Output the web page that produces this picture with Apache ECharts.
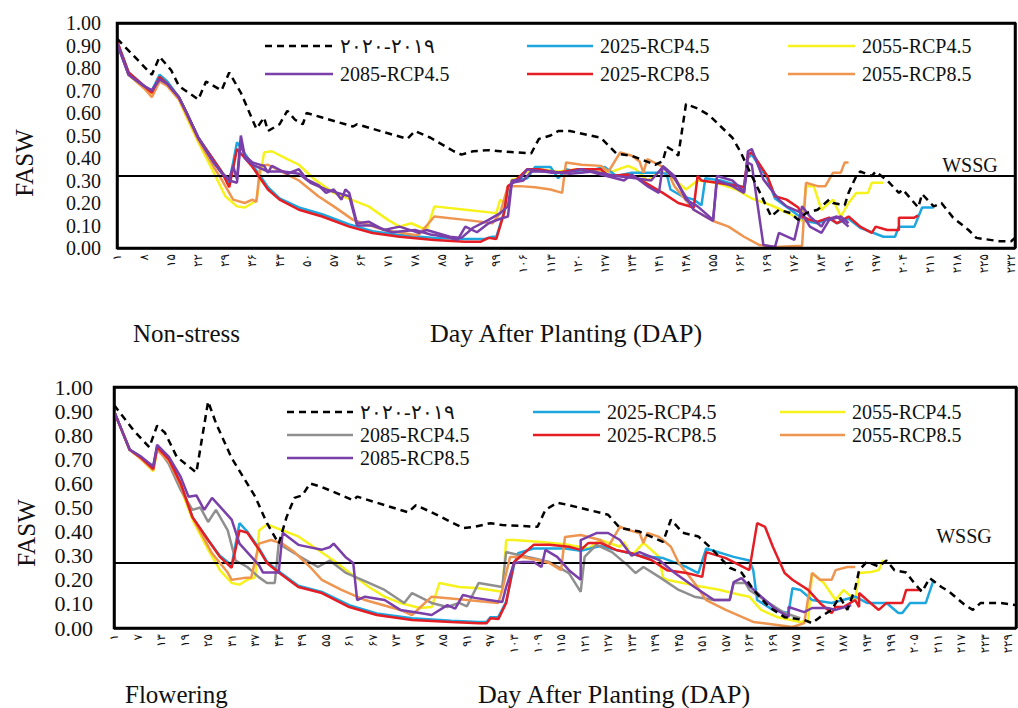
<!DOCTYPE html>
<html><head><meta charset="utf-8">
<script src="https://cdn.jsdelivr.net/npm/echarts@6/dist/echarts.min.js"></script>
<style>html,body{margin:0;padding:0;background:#fff}#c{width:1018px;height:708px;background:#fff}</style>
</head><body><div id="c"></div>
<script>
// ---------- categories (Day After Planting) ----------
const TOP_DAYS = []; for (let d = 1; d <= 233; d++) TOP_DAYS.push(String(d));
const BOT_DAYS = []; for (let d = 1; d <= 231; d++) BOT_DAYS.push(String(d));
const Y_TICKS = [0, 0.1, 0.2, 0.3, 0.4, 0.5, 0.6, 0.7, 0.8, 0.9, 1.0];
const WSSG_TOP = 0.315;
const WSSG_BOT = 0.27;

// ---------- Non-stress panel: [day, FASW] ----------
const TOP_OBS = [[1,0.93],[5,0.86],[10,0.77],[12,0.85],[15,0.79],[17,0.72],[22,0.66],[24,0.74],[28,0.70],[30,0.78],[33,0.69],[37,0.53],[39,0.58],[40,0.52],[43,0.55],[45,0.61],[47,0.57],[49,0.55],[50,0.60],[54,0.58],[62,0.54],[63,0.55],[71,0.51],[76,0.485],[78,0.52],[82,0.49],[88,0.43],[90,0.415],[93,0.43],[97,0.435],[100,0.43],[108,0.42],[110,0.485],[113,0.50],[115,0.52],[118,0.52],[126,0.49],[130,0.42],[134,0.41],[140,0.37],[142,0.385],[143,0.45],[145,0.43],[146,0.41],[148,0.64],[151,0.62],[154,0.59],[157,0.54],[160,0.49],[162,0.43],[165,0.32],[167,0.25],[170,0.14],[172,0.17],[175,0.155],[177,0.125],[179,0.155],[182,0.17],[185,0.215],[186,0.20],[189,0.19],[190,0.245],[192,0.32],[193,0.34],[196,0.32],[197,0.34],[200,0.30],[203,0.245],[204,0.26],[208,0.18],[209,0.24],[212,0.185],[214,0.20],[217,0.135],[221,0.08],[223,0.045],[229,0.03],[232,0.03],[233,0.045]];
const TOP_2025_45 = [[1,0.92],[4,0.78],[8,0.72],[10,0.70],[12,0.77],[14,0.74],[17,0.67],[19,0.60],[22,0.49],[26,0.39],[28,0.34],[30,0.29],[32,0.47],[34,0.42],[36,0.37],[40,0.27],[43,0.22],[48,0.18],[54,0.15],[61,0.105],[67,0.075],[74,0.058],[83,0.045],[91,0.04],[96,0.04],[98,0.05],[99,0.05],[101,0.16],[102,0.27],[104,0.30],[107,0.31],[109,0.36],[113,0.36],[115,0.31],[117,0.35],[121,0.335],[127,0.36],[130,0.32],[134,0.335],[141,0.335],[143,0.33],[144,0.26],[147,0.23],[150,0.215],[152,0.19],[153,0.31],[157,0.30],[161,0.28],[163,0.27],[164,0.40],[165,0.415],[169,0.31],[171,0.22],[175,0.17],[179,0.12],[182,0.11],[185,0.13],[187,0.11],[190,0.13],[193,0.09],[196,0.07],[199,0.05],[202,0.05],[203,0.095],[207,0.095],[209,0.18],[212,0.18]];
const TOP_2055_45 = [[1,0.92],[4,0.77],[8,0.71],[10,0.68],[12,0.75],[14,0.72],[17,0.66],[19,0.58],[22,0.47],[26,0.335],[29,0.23],[32,0.185],[34,0.18],[36,0.20],[37,0.21],[39,0.425],[41,0.43],[45,0.395],[48,0.37],[52,0.305],[57,0.245],[66,0.185],[71,0.125],[74,0.095],[77,0.11],[81,0.08],[83,0.185],[91,0.17],[99,0.155],[100,0.215],[102,0.185],[103,0.305],[105,0.31],[107,0.34],[110,0.35],[115,0.34],[120,0.35],[125,0.34],[129,0.34],[133,0.365],[135,0.35],[138,0.30],[141,0.335],[143,0.335],[148,0.26],[151,0.30],[156,0.29],[161,0.26],[165,0.22],[170,0.19],[175,0.15],[178,0.12],[179,0.275],[181,0.275],[183,0.17],[186,0.215],[188,0.14],[190,0.20],[192,0.245],[195,0.245],[196,0.29],[199,0.29]];
const TOP_2055_85 = [[1,0.92],[4,0.77],[8,0.71],[10,0.67],[12,0.74],[14,0.72],[17,0.66],[19,0.59],[22,0.48],[26,0.36],[28,0.305],[31,0.215],[34,0.20],[36,0.215],[37,0.205],[38,0.365],[40,0.37],[44,0.335],[48,0.30],[53,0.23],[57,0.185],[62,0.125],[70,0.08],[78,0.058],[79,0.06],[83,0.14],[91,0.125],[98,0.11],[100,0.155],[102,0.275],[105,0.275],[109,0.27],[113,0.26],[116,0.245],[117,0.38],[121,0.37],[126,0.365],[128,0.34],[131,0.425],[134,0.41],[136,0.385],[137,0.335],[138,0.395],[141,0.37],[143,0.35],[145,0.275],[150,0.17],[155,0.12],[159,0.095],[163,0.05],[167,0.013],[171,0.005],[178,0.01],[179,0.29],[182,0.275],[184,0.275],[186,0.335],[188,0.335],[189,0.38],[190,0.38]];
const TOP_2025_85 = [[1,0.92],[4,0.78],[8,0.72],[10,0.69],[12,0.76],[14,0.73],[17,0.67],[19,0.60],[22,0.49],[26,0.39],[28,0.34],[30,0.27],[32,0.44],[34,0.40],[36,0.36],[40,0.26],[43,0.215],[48,0.17],[54,0.14],[61,0.095],[67,0.067],[74,0.05],[83,0.036],[91,0.028],[95,0.028],[97,0.045],[99,0.04],[101,0.155],[102,0.275],[104,0.30],[107,0.35],[110,0.35],[115,0.335],[120,0.35],[126,0.35],[128,0.32],[133,0.327],[136,0.305],[142,0.245],[146,0.20],[150,0.18],[151,0.32],[152,0.30],[156,0.29],[160,0.28],[163,0.27],[164,0.415],[165,0.425],[169,0.32],[171,0.23],[174,0.215],[177,0.18],[178,0.14],[180,0.125],[182,0.117],[185,0.135],[187,0.11],[190,0.14],[193,0.095],[196,0.067],[197,0.095],[200,0.08],[203,0.08],[203,0.135],[207,0.135],[208,0.145]];
const TOP_2085_45 = [[1,0.91],[4,0.77],[8,0.72],[10,0.70],[12,0.75],[14,0.73],[17,0.67],[19,0.60],[22,0.49],[26,0.38],[28,0.335],[30,0.305],[31,0.365],[32,0.305],[33,0.50],[34,0.41],[36,0.38],[39,0.365],[40,0.335],[41,0.365],[45,0.33],[48,0.35],[50,0.305],[53,0.28],[55,0.245],[57,0.26],[59,0.215],[60,0.26],[61,0.245],[63,0.11],[66,0.117],[70,0.08],[74,0.095],[79,0.067],[81,0.08],[87,0.05],[90,0.045],[93,0.09],[97,0.125],[100,0.155],[102,0.185],[103,0.30],[105,0.305],[107,0.35],[113,0.335],[117,0.335],[121,0.35],[126,0.327],[132,0.30],[134,0.327],[138,0.275],[141,0.245],[142,0.365],[145,0.32],[148,0.215],[151,0.185],[155,0.125],[156,0.30],[160,0.275],[163,0.245],[164,0.43],[165,0.44],[168,0.305],[172,0.215],[174,0.185],[178,0.155],[180,0.095],[183,0.067],[185,0.125],[188,0.14],[190,0.11]];
const TOP_2085_85 = [[1,0.91],[4,0.77],[8,0.72],[10,0.70],[12,0.75],[14,0.73],[17,0.67],[19,0.60],[22,0.49],[26,0.38],[28,0.335],[30,0.30],[32,0.29],[33,0.48],[34,0.40],[36,0.37],[40,0.34],[44,0.34],[48,0.33],[51,0.29],[55,0.26],[58,0.245],[61,0.23],[63,0.10],[67,0.10],[72,0.07],[78,0.08],[82,0.06],[86,0.05],[89,0.036],[91,0.095],[94,0.07],[97,0.11],[100,0.13],[102,0.14],[103,0.29],[106,0.30],[108,0.34],[113,0.34],[118,0.33],[124,0.34],[130,0.32],[135,0.31],[139,0.30],[142,0.36],[145,0.31],[150,0.17],[155,0.12],[156,0.32],[160,0.30],[163,0.25],[164,0.38],[165,0.37],[168,0.013],[171,0.005],[172,0.067],[176,0.036],[178,0.185],[180,0.14],[183,0.095],[184,0.125],[187,0.14],[190,0.095]];

// ---------- Flowering panel: [day, FASW] ----------
const BOT_OBS = [[1,0.925],[6,0.82],[10,0.75],[12,0.84],[14,0.81],[17,0.71],[22,0.645],[25,0.94],[27,0.85],[31,0.705],[37,0.545],[40,0.435],[43,0.35],[45,0.46],[47,0.54],[49,0.55],[51,0.60],[54,0.585],[62,0.53],[63,0.545],[76,0.48],[78,0.51],[82,0.48],[90,0.415],[93,0.42],[97,0.435],[100,0.427],[109,0.42],[111,0.49],[114,0.52],[117,0.51],[127,0.47],[130,0.415],[135,0.40],[141,0.357],[143,0.45],[146,0.395],[150,0.38],[153,0.335],[158,0.25],[161,0.23],[164,0.16],[168,0.087],[172,0.045],[177,0.033],[179,0.02],[181,0.045],[184,0.075],[186,0.13],[188,0.075],[190,0.165],[191,0.24],[193,0.275],[196,0.255],[198,0.28],[200,0.24],[203,0.23],[205,0.187],[207,0.15],[209,0.207],[212,0.17],[214,0.15],[218,0.095],[220,0.075],[222,0.104],[227,0.104],[231,0.095]];
const BOT_2025_45 = [[1,0.90],[5,0.74],[8,0.705],[11,0.67],[12,0.75],[15,0.70],[18,0.60],[21,0.46],[25,0.365],[28,0.30],[31,0.26],[33,0.435],[35,0.40],[38,0.33],[40,0.275],[43,0.235],[48,0.175],[54,0.15],[61,0.095],[68,0.06],[77,0.04],[87,0.03],[94,0.025],[96,0.025],[97,0.045],[99,0.045],[101,0.11],[103,0.26],[104,0.31],[108,0.33],[112,0.33],[116,0.33],[120,0.32],[125,0.34],[130,0.32],[135,0.30],[141,0.29],[147,0.253],[150,0.228],[152,0.33],[159,0.295],[163,0.28],[164,0.24],[165,0.116],[169,0.075],[173,0.062],[174,0.165],[176,0.158],[179,0.116],[184,0.104],[190,0.13],[193,0.104],[198,0.104],[201,0.062],[202,0.062],[204,0.104],[208,0.104],[210,0.20]];
const BOT_2055_45 = [[1,0.90],[5,0.74],[8,0.70],[11,0.65],[12,0.74],[15,0.69],[18,0.58],[21,0.45],[25,0.325],[28,0.24],[31,0.187],[33,0.18],[35,0.20],[37,0.21],[38,0.405],[40,0.43],[44,0.405],[48,0.38],[53,0.325],[57,0.28],[61,0.23],[66,0.17],[70,0.13],[74,0.104],[79,0.083],[82,0.087],[84,0.187],[89,0.17],[94,0.165],[100,0.15],[101,0.365],[103,0.365],[110,0.357],[117,0.345],[122,0.33],[125,0.365],[130,0.337],[131,0.357],[133,0.30],[136,0.353],[140,0.295],[141,0.21],[142,0.20],[148,0.18],[155,0.16],[160,0.14],[163,0.13],[166,0.075],[170,0.046],[176,0.025],[178,0.03],[179,0.228],[182,0.187],[185,0.116],[187,0.158],[190,0.116],[191,0.228],[194,0.232],[196,0.24],[197,0.28],[198,0.27]];
const BOT_2085_45 = [[1,0.90],[5,0.74],[8,0.705],[11,0.67],[12,0.75],[15,0.68],[18,0.573],[21,0.49],[23,0.50],[25,0.44],[27,0.49],[30,0.405],[32,0.28],[35,0.253],[38,0.21],[40,0.187],[42,0.187],[43,0.35],[47,0.31],[53,0.253],[56,0.28],[60,0.23],[66,0.187],[70,0.158],[75,0.104],[77,0.145],[82,0.104],[86,0.087],[89,0.104],[91,0.09],[94,0.187],[100,0.17],[101,0.315],[105,0.30],[108,0.29],[112,0.274],[117,0.228],[120,0.15],[121,0.295],[124,0.345],[128,0.315],[132,0.26],[134,0.228],[136,0.253],[140,0.212],[145,0.158],[149,0.13],[154,0.116],[158,0.116],[159,0.187],[162,0.187],[163,0.158],[168,0.104],[172,0.062],[176,0.041]];
const BOT_2025_85 = [[1,0.90],[5,0.74],[8,0.705],[11,0.66],[12,0.75],[15,0.70],[18,0.60],[21,0.46],[25,0.365],[28,0.295],[31,0.25],[33,0.405],[35,0.395],[38,0.325],[40,0.27],[43,0.23],[48,0.17],[54,0.145],[61,0.087],[68,0.054],[77,0.033],[87,0.025],[94,0.02],[96,0.02],[97,0.04],[99,0.037],[101,0.104],[103,0.274],[108,0.345],[112,0.345],[117,0.337],[120,0.324],[122,0.353],[125,0.353],[129,0.324],[133,0.31],[138,0.282],[142,0.24],[147,0.228],[151,0.212],[152,0.315],[157,0.29],[163,0.24],[165,0.435],[167,0.42],[169,0.337],[172,0.228],[174,0.20],[178,0.158],[181,0.104],[184,0.062],[185,0.087],[187,0.087],[190,0.116],[191,0.087],[191,0.145],[193,0.116],[196,0.075],[198,0.104],[202,0.104],[203,0.158],[207,0.158]];
const BOT_2055_85 = [[1,0.90],[5,0.74],[8,0.70],[11,0.655],[12,0.74],[15,0.69],[18,0.59],[21,0.46],[26,0.31],[30,0.23],[31,0.20],[34,0.207],[36,0.21],[38,0.35],[41,0.365],[44,0.35],[47,0.315],[51,0.253],[54,0.20],[59,0.158],[65,0.116],[74,0.075],[77,0.054],[82,0.13],[91,0.116],[99,0.104],[100,0.158],[102,0.295],[105,0.295],[109,0.282],[112,0.27],[115,0.24],[116,0.378],[120,0.386],[125,0.365],[127,0.337],[130,0.42],[132,0.407],[135,0.394],[136,0.353],[137,0.394],[140,0.378],[143,0.337],[145,0.27],[149,0.187],[152,0.116],[157,0.075],[164,0.025],[174,0.004],[177,0.02],[179,0.228],[181,0.20],[184,0.20],[185,0.24],[188,0.253],[190,0.253]];
const BOT_2085_85 = [[1,0.90],[5,0.74],[8,0.71],[11,0.67],[12,0.76],[15,0.71],[18,0.627],[20,0.545],[22,0.55],[24,0.49],[26,0.54],[31,0.45],[33,0.35],[38,0.26],[39,0.23],[43,0.23],[44,0.395],[48,0.345],[54,0.325],[56,0.335],[57,0.35],[60,0.295],[62,0.27],[63,0.116],[65,0.13],[70,0.116],[74,0.075],[79,0.062],[82,0.054],[86,0.095],[88,0.08],[90,0.137],[93,0.125],[100,0.108],[101,0.17],[103,0.27],[105,0.274],[108,0.274],[110,0.253],[111,0.324],[114,0.295],[117,0.24],[120,0.20],[120,0.365],[124,0.394],[127,0.394],[130,0.365],[133,0.30],[135,0.315],[140,0.282],[144,0.228],[149,0.17],[154,0.116],[158,0.116],[159,0.19],[161,0.207],[162,0.19],[167,0.116],[170,0.075],[173,0.046],[173,0.087],[177,0.066],[179,0.083],[183,0.083],[185,0.075],[189,0.095]];

// ---------- names ----------
const OBS_NAME = '۲۰۲۰-۲۰۱۹';
const SERIES_NAMES = ['2025-RCP4.5', '2055-RCP4.5', '2085-RCP4.5', '2025-RCP8.5', '2055-RCP8.5', '2085-RCP8.5'];
const PANEL_LABELS = ['Non-stress', 'Flowering'];

// ---------- styles ----------
const C = { obs: '#000000', b: '#1EA7DF', y: '#F6F21C', r: '#E51D24', o: '#EE9550', p: '#7A3FA8', g: '#8F8F8F' };
const FONT = 'Liberation Serif, Times New Roman, serif';
const PERSIAN = '۰۱۲۳۴۵۶۷۸۹';
const toFa = s => String(s).replace(/\d/g, d => PERSIAN[d]);
const pts = arr => arr.map(([d, v]) => [d - 1, v]);

function line(name, data, color, xi, z, extra) {
  return Object.assign({
    name, type: 'line', xAxisIndex: xi, yAxisIndex: xi, data: pts(data),
    showSymbol: false, symbol: 'none', smooth: false, z,
    lineStyle: { color, width: 2.5 }, itemStyle: { color }, animation: false, silent: true
  }, extra || {});
}
// observed series carries the WSSG threshold line and the plot frame (axis extremes)
function obsLine(data, xi, wssg, days) {
  const F = { color: '#000', width: 2.5, type: 'solid' };
  return line(OBS_NAME, data, C.obs, xi, 10, {
    clip: false,
    lineStyle: { color: '#000', width: 2.5, type: [7, 5] },
    markLine: { silent: true, symbol: 'none', animation: false, label: { show: false },
      lineStyle: { color: '#000', width: 1.8, type: 'solid' },
      data: [
        { yAxis: wssg },
        { yAxis: Y_TICKS[0], lineStyle: F },
        { yAxis: Y_TICKS[Y_TICKS.length - 1], lineStyle: F },
        { xAxis: days[0], lineStyle: F },
        { xAxis: days[days.length - 1], lineStyle: F }
      ] }
  });
}

const series = [
  line(SERIES_NAMES[0], TOP_2025_45, C.b, 0, 3),
  line(SERIES_NAMES[1], TOP_2055_45, C.y, 0, 2),
  line(SERIES_NAMES[4], TOP_2055_85, C.o, 0, 4),
  line(SERIES_NAMES[3], TOP_2025_85, C.r, 0, 5),
  line(SERIES_NAMES[5], TOP_2085_85, C.p, 0, 6),
  line(SERIES_NAMES[2], TOP_2085_45, C.p, 0, 7),
  obsLine(TOP_OBS, 0, WSSG_TOP, TOP_DAYS),
  line(SERIES_NAMES[0], BOT_2025_45, C.b, 1, 3),
  line(SERIES_NAMES[1], BOT_2055_45, C.y, 1, 2),
  line(SERIES_NAMES[2], BOT_2085_45, C.g, 1, 4),
  line(SERIES_NAMES[4], BOT_2055_85, C.o, 1, 5),
  line(SERIES_NAMES[3], BOT_2025_85, C.r, 1, 6),
  line(SERIES_NAMES[5], BOT_2085_85, C.p, 1, 7),
  obsLine(BOT_OBS, 1, WSSG_BOT, BOT_DAYS)
];

function xAxis(days, gi, interval) {
  return { type: 'category', gridIndex: gi, data: days, boundaryGap: false,
    axisLine: { show: false }, axisTick: { show: false }, splitLine: { show: false },
    axisLabel: { interval, rotate: 90, margin: 6, fontSize: 12, color: '#111',
      fontFamily: 'DejaVu Sans, Noto Sans, sans-serif', formatter: v => toFa(v) } };
}
function yAxis(gi, fs, margin) {
  return { type: 'value', gridIndex: gi, min: Y_TICKS[0], max: Y_TICKS[Y_TICKS.length - 1], interval: 0.1,
    axisLine: { show: false }, axisTick: { show: false }, splitLine: { show: false },
    axisLabel: { margin, fontSize: fs, color: '#111', fontFamily: FONT, formatter: v => v.toFixed(2) } };
}

// ---------- frames, legends and texts drawn as graphic items ----------
const GRIDS = [
  { left: 117, top: 23, width: 898, height: 225 },
  { left: 114, top: 387, width: 902, height: 241 }
];
const g = [];
GRIDS.forEach(gr => g.push({ type: 'polygon', silent: true, z: 50,
  shape: { points: [[gr.left, gr.top], [gr.left + gr.width, gr.top], [gr.left + gr.width, gr.top + gr.height], [gr.left, gr.top + gr.height]] },
  style: { fill: 'none', stroke: '#000000', lineWidth: 2.5 } }));

function seg(x1, y1, x2, y2, color, w, dash) {
  g.push({ type: 'line', silent: true, z: 100, shape: { x1, y1, x2, y2 },
    style: { stroke: color, lineWidth: w, lineDash: dash || null } });
}
function legendItem(x1, x2, y, name, color, dashed, fs) {
  seg(x1, y, x2, y, color, 2.5, dashed ? [7, 5] : null);
  g.push({ type: 'text', silent: true, x: x2 + 7, y, style: { text: name, font: fs + 'px ' + FONT,
    fill: '#111', textVerticalAlign: 'middle', textAlign: 'left' } });
}
// top legend
legendItem(265, 333, 46, OBS_NAME, C.obs, true, 20);
legendItem(527, 593, 46, SERIES_NAMES[0], C.b, false, 20);
legendItem(788, 855, 46, SERIES_NAMES[1], C.y, false, 20);
legendItem(265, 333, 74, SERIES_NAMES[2], C.p, false, 20);
legendItem(527, 593, 74, SERIES_NAMES[3], C.r, false, 20);
legendItem(788, 855, 74, SERIES_NAMES[4], C.o, false, 20);
// bottom legend
legendItem(287, 353, 412, OBS_NAME, C.obs, true, 20);
legendItem(533, 600, 412, SERIES_NAMES[0], C.b, false, 20);
legendItem(780, 845, 412, SERIES_NAMES[1], C.y, false, 20);
legendItem(287, 353, 435, SERIES_NAMES[2], C.g, false, 20);
legendItem(533, 600, 435, SERIES_NAMES[3], C.r, false, 20);
legendItem(780, 845, 435, SERIES_NAMES[4], C.o, false, 20);
legendItem(287, 353, 458, SERIES_NAMES[5], C.p, false, 20);

function txt(x, y, text, fs, align, rot) {
  g.push({ type: 'text', silent: true, x, y, rotation: rot || 0,
    style: { text, font: fs + 'px ' + FONT, fill: '#111', textAlign: align || 'left', textVerticalAlign: 'middle' } });
}
txt(24, 163, 'FASW', 25, 'center', Math.PI / 2);
txt(26, 533, 'FASW', 25, 'center', Math.PI / 2);
txt(970, 165, 'WSSG', 20, 'center');
txt(964, 536, 'WSSG', 20, 'center');
txt(133, 333, PANEL_LABELS[0], 25, 'left');
txt(430, 333, 'Day After Planting (DAP)', 26, 'left');
txt(125, 694, PANEL_LABELS[1], 25, 'left');
txt(478, 694, 'Day After Planting (DAP)', 26, 'left');

const chart = echarts.init(document.getElementById('c'), null, { renderer: 'svg' });
chart.setOption({
  animation: false,
  grid: GRIDS.map(gr => Object.assign({ show: false, containLabel: false }, gr)),
  xAxis: [xAxis(TOP_DAYS, 0, 6), xAxis(BOT_DAYS, 1, 5)],
  yAxis: [yAxis(0, 20, 16), yAxis(1, 22, 21)],
  series,
  graphic: g
});
</script></body></html>
